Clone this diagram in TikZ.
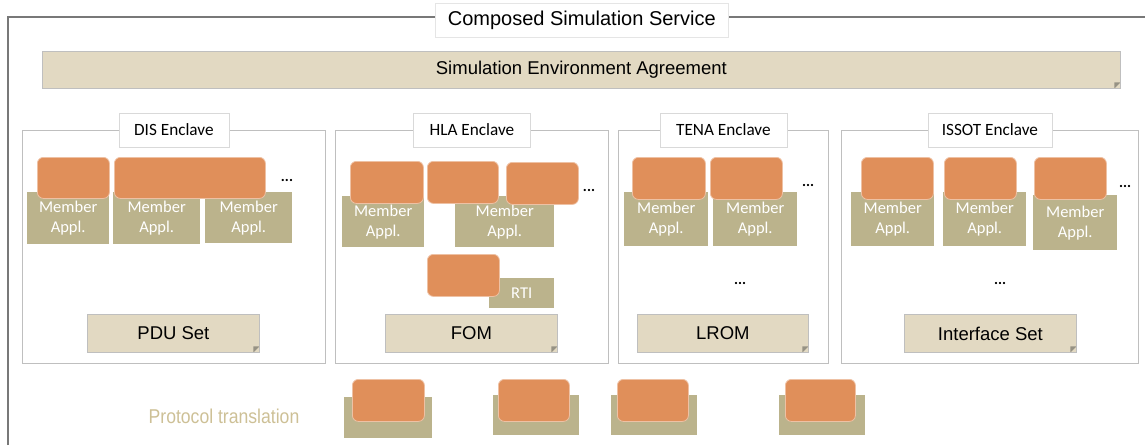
\documentclass[tikz,border=0pt]{standalone}
\usepackage{fontspec}
\setmainfont{Liberation Sans}
\newfontfamily\calibri{Carlito}
\newfontfamily\narrowsans[FakeStretch=0.88]{Liberation Sans}
\usetikzlibrary{positioning}

\definecolor{applorange}{RGB}{224,143,90}
\definecolor{membertan}{RGB}{187,179,140}
\definecolor{notebeige}{RGB}{226,217,194}
\definecolor{notefold}{RGB}{150,146,132}
\definecolor{framegray}{RGB}{191,191,191}
\definecolor{outergray}{RGB}{120,120,120}
\definecolor{transtan}{RGB}{205,192,150}

\tikzset{
    wh/.style 2 args={minimum width=#1pt, minimum height=#2pt},
    enclave/.style={draw=framegray, line width=0.8pt, anchor=north west},
    tag/.style={draw=framegray!60, fill=white, line width=0.6pt, inner sep=0pt, font=\calibri\fontsize{17.2}{20}\selectfont},
    member/.style={fill=membertan, text=white, align=center, anchor=north west, inner sep=0pt, font=\calibri\fontsize{16.5}{20}\selectfont},
    appl/.style={fill=applorange, draw=applorange!55!white, line width=0.8pt, rounded corners=6pt, anchor=north west, inner sep=0pt},
    agree/.style={fill=notebeige, draw=framegray, line width=0.8pt, anchor=north west, inner sep=0pt, font=\fontsize{18.5}{22}\selectfont,
        path picture={\fill[notefold] ([xshift=-6pt]path picture bounding box.south east) -- ([xshift=-6pt,yshift=6pt]path picture bounding box.south east) -- ([yshift=6pt]path picture bounding box.south east) -- cycle;}},
    dots/.style={inner sep=0pt, font=\calibri\bfseries\fontsize{15}{18}\selectfont}
}

\begin{document}
\begin{tikzpicture}[x=1pt, y=-1pt]
    \useasboundingbox (0,0) rectangle (1145,445);
    %% Composed Simulation Service frame
    \coordinate (fbl) at (8,445);
    \coordinate (ftl) at (8,17);
    \coordinate (ftr) at (1145,17);
    \draw[outergray, line width=1.5pt] (fbl) -- (ftl) -- (ftr);
    \node[tag, anchor=north west, wh={293}{34}, draw=framegray!40, font=\fontsize{20}{24}\selectfont] (service) at (435,3) {Composed Simulation Service};
    \node[agree, wh={1078}{37}] (sea) at (42,51) {Simulation Environment Agreement};

    %% DIS Enclave
    \node[enclave, wh={303}{233}] (dis) at (22,130) {};
    \node[tag, wh={110}{34}] (dislabel) at (dis.north) {DIS Enclave};
    \node[member, wh={82}{52}] (dism1) at (27,192) {Member\\Appl.};
    \node[member, wh={87}{52}] (dism2) at (113,192) {Member\\Appl.};
    \node[member, wh={87}{51}] (dism3) at (205,192) {Member\\Appl.};
    \node[appl, wh={72}{41}] (disa1) at (37,157) {};
    \node[appl, wh={151}{41}] (disa2) at (114,157) {};
    \node[dots] (disdots) at (287,180) {...};
    \node[agree, wh={172}{38}] (pdu) at (87,314) {PDU Set};

    %% HLA Enclave
    \node[enclave, wh={273}{233}] (hla) at (335,130) {};
    \node[tag, wh={117}{34}] (hlalabel) at (hla.north) {HLA Enclave};
    \node[member, wh={82}{51}] (hlam1) at (342,196) {Member\\Appl.};
    \node[member, wh={99}{51}] (hlam2) at (455,196) {Member\\Appl.};
    \node[appl, wh={73}{42}] (hlaa1) at (350,161) {};
    \node[appl, wh={71}{42}] (hlaa2) at (427,161) {};
    \node[appl, wh={72}{42}] (hlaa3) at (506,162) {};
    \node[dots] (hladots) at (589,190) {...};
    \node[member, wh={65}{30}] (rti) at (489,278) {RTI};
    \node[appl, wh={72}{42}] (rtia) at (427,254) {};
    \node[agree, wh={172}{38}] (fom) at (385,314) {FOM};

    %% TENA Enclave
    \node[enclave, wh={210}{233}] (tena) at (618,130) {};
    \node[tag, wh={127}{34}] (tenalabel) at (tena.north) {TENA Enclave};
    \node[member, wh={84}{54}] (tenam1) at (624,192) {Member\\Appl.};
    \node[member, wh={84}{54}] (tenam2) at (713,192) {Member\\Appl.};
    \node[appl, wh={73}{42}] (tenaa1) at (632,157) {};
    \node[appl, wh={72}{42}] (tenaa2) at (710,157) {};
    \node[dots] (tenadots) at (808,185) {...};
    \node[dots] (tenamore) at (740,283) {...};
    \node[agree, wh={171}{38}] (lrom) at (637,314) {LROM};

    %% ISSOT Enclave
    \node[enclave, wh={297}{233}] (issot) at (841,130) {};
    \node[tag, wh={124}{34}] (issotlabel) at (issot.north) {ISSOT Enclave};
    \node[member, wh={83}{54}] (issotm1) at (851,192) {Member\\Appl.};
    \node[member, wh={83}{54}] (issotm2) at (943,192) {Member\\Appl.};
    \node[member, wh={84}{55}] (issotm3) at (1033,195) {Member\\Appl.};
    \node[appl, wh={72}{42}] (issota1) at (861,157) {};
    \node[appl, wh={72}{42}] (issota2) at (944,157) {};
    \node[appl, wh={72}{42}] (issota3) at (1034,157) {};
    \node[dots] (issotdots) at (1125,186) {...};
    \node[dots] (issotmore) at (1000,283) {...};
    \node[agree, wh={172}{38}] (ifset) at (904,314) {Interface Set};

    %% Protocol translation
    \node[text=transtan, font=\narrowsans\fontsize{20}{24}\selectfont] (ptlabel) at (224,416) {Protocol translation};
    \node[member, wh={88}{41}] (pt1) at (344,397) {};
    \node[member, wh={86}{40}] (pt2) at (493,395) {};
    \node[member, wh={86}{40}] (pt3) at (611,395) {};
    \node[member, wh={86}{40}] (pt4) at (779,395) {};
    \node[appl, wh={72}{42}] (pta1) at (352,379) {};
    \node[appl, wh={71}{42}] (pta2) at (498,379) {};
    \node[appl, wh={71}{42}] (pta3) at (617,379) {};
    \node[appl, wh={70}{42}] (pta4) at (785,379) {};
\end{tikzpicture}
\end{document}
